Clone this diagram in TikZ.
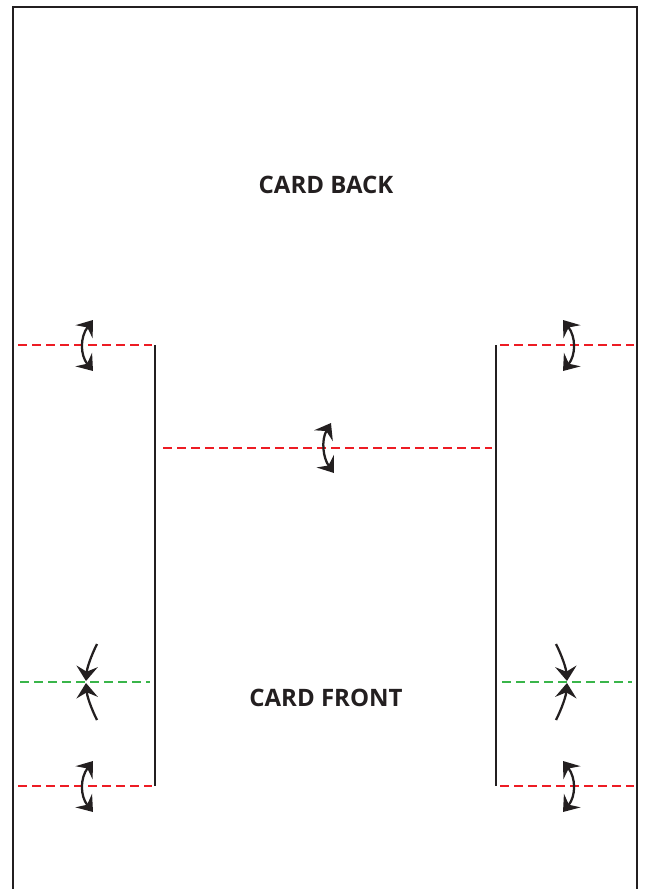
\documentclass[tikz,border=0pt]{standalone}
\usepackage{fontspec}
\setmainfont{Open Sans}
\usetikzlibrary{arrows.meta}
\definecolor{cutred}{RGB}{237,28,36}
\definecolor{foldgreen}{RGB}{57,181,74}
\definecolor{inkblack}{RGB}{35,31,32}
\tikzset{
  cutline/.style={cutred, line width=1.8pt, dash pattern=on 6.5pt off 4pt},
  foldline/.style={foldgreen, line width=1.8pt, dash pattern=on 6.5pt off 4pt},
  slit/.style={inkblack, line width=1.9pt},
  turn/.style={inkblack, line width=1.7pt,
    {Stealth[length=11pt,width=16pt,inset=4pt]}-{Stealth[length=11pt,width=16pt,inset=4pt]}},
  push/.style={inkblack, line width=1.7pt, -{Stealth[length=11pt,width=16pt,inset=4pt]}},
  cardtext/.style={font=\fontsize{18}{21}\selectfont\bfseries, text=inkblack}
}
\begin{document}
\begin{tikzpicture}[x=0.75pt, y=-0.75pt]
  \useasboundingbox (0,0) rectangle (644,889);
  % outer card
  \draw[slit] (13,895) -- (13,7) -- (637,7) -- (637,895);

  \node[cardtext] (back) at (326,185) {CARD BACK};
  \node[cardtext] (front) at (326,698) {CARD FRONT};

  % slits
  \draw[slit] (155,345) -- (155,786);
  \draw[slit] (496,345) -- (496,786);

  % cut lines
  \draw[cutline] (18,345) -- (152,345);
  \draw[cutline] (500,345) -- (634,345);
  \draw[cutline] (163,448) -- (492,448);
  \draw[cutline] (18,786) -- (152,786);
  \draw[cutline] (500,786) -- (634,786);

  % fold lines
  \draw[foldline] (20,682) -- (150,682);
  \draw[foldline] (502,682) -- (632,682);

  % turn arrows
  \draw[turn] (93,320) .. controls (80,337) and (80,355) .. (93,371);
  \draw[turn] (93,761) .. controls (80,778) and (80,796) .. (93,812);
  \draw[turn] (331,423) .. controls (321,440) and (323,458) .. (334,473);
  \draw[turn] (563,320) .. controls (576,337) and (576,355) .. (563,371);
  \draw[turn] (563,761) .. controls (576,778) and (576,796) .. (563,812);

  % push arrows
  \draw[push] (97,644) .. controls (91,656) and (87,668) .. (86,681);
  \draw[push] (97,720) .. controls (91,708) and (87,696) .. (86,683);
  \draw[push] (556,644) .. controls (562,656) and (566,668) .. (567,681);
  \draw[push] (556,720) .. controls (562,708) and (566,696) .. (567,683);
\end{tikzpicture}
\end{document}
